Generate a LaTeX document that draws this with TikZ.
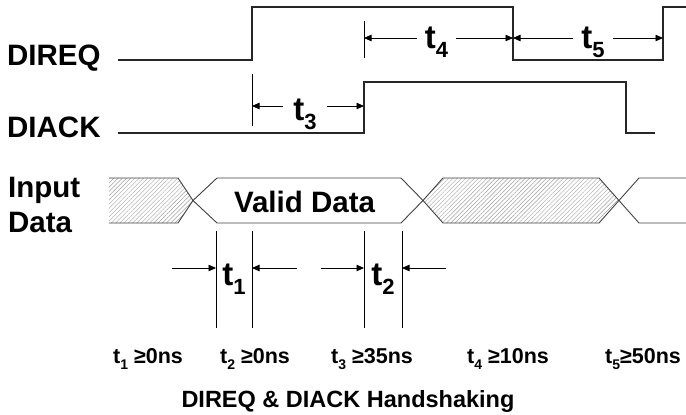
\documentclass[tikz,border=0pt]{standalone}
\usepackage{fontspec}
\setmainfont{Liberation Sans}
\usetikzlibrary{arrows.meta,patterns.meta,positioning}

% subscripted time names: big one on the waveforms, small one in the list
\newcommand{\tbig}[1]{t\raisebox{-0.3em}{\fontsize{22}{22}\selectfont #1}}
\newcommand{\tsmall}[1]{t\raisebox{-0.32em}{\fontsize{14}{14}\selectfont #1}}

\tikzset{
  sig/.style={line width=1.1pt, draw=black!85, line join=miter},
  bus/.style={line width=0.9pt, draw=black!75},
  hatch/.style={pattern={Lines[angle=45,distance=3pt,line width=0.45pt]}, pattern color=gray!75},
  tick/.style={line width=0.8pt, draw=black},
  dim/.style={line width=0.8pt, -{Triangle[length=7.5pt,width=6.5pt]}},
  siglabel/.style={font=\bfseries\fontsize{29.5}{35}\selectfont, inner sep=0pt, anchor=base west},
  tname/.style={font=\bfseries\fontsize{33}{33}\selectfont, inner ysep=0pt, anchor=base},
  spec/.style={font=\bfseries\fontsize{21.5}{21.5}\selectfont, inner sep=0pt, anchor=base},
}

\begin{document}
\begin{tikzpicture}[x=1pt, y=-1pt]
  \useasboundingbox (0,0) rectangle (686,415);

  % ======= signal names =======
  \node[siglabel] (direq) at (7,65) {DIREQ};
  \node[siglabel] (diack) at (7,137) {DIACK};
  \node[siglabel] (input) at (8,197) {Input};
  \node[siglabel] (data) at (8,232) {Data};

  % ======= DIREQ / DIACK waveforms =======
  \draw[sig] (118,60) -- (252,60) -- (252,7) -- (513,7) -- (513,60) -- (663,60) -- (663,7) -- (687,7);
  \draw[sig] (118,133) -- (364,133) -- (364,82) -- (626,82) -- (626,133) -- (655,133);

  % ======= input data bus =======
  \path[hatch] (109,178) -- (178,178) -- (193,200.5) -- (178,223) -- (109,223) -- cycle;
  \draw[bus] (109,178) -- (178,178) -- (193,200.5) -- (178,223) -- (109,223);
  \draw[bus] (193,200.5) -- (217,178) -- (401,178) -- (423,200.5) -- (401,223) -- (217,223) -- cycle;
  \draw[bus, hatch] (423,200.5) -- (443,178) -- (599,178) -- (619,200.5) -- (599,223) -- (443,223) -- cycle;
  \draw[bus] (687,178) -- (639,178) -- (619,200.5) -- (639,223) -- (687,223);
  \node[font=\bfseries\fontsize{29.5}{29.5}\selectfont, inner sep=0pt, anchor=base] (valid) at (304.5,212) {Valid Data};

  % ======= t3 (DIREQ up -> DIACK up) =======
  \draw[tick] (252,74) -- (252,126);
  \coordinate (t3a) at (252,106);
  \coordinate (t3b) at (364,106);
  \node[tname, inner xsep=10.5pt] (t3lab) at (305,120) {\tbig{3}};
  \draw[dim] (t3lab.west |- t3a) -- (t3a);
  \draw[dim] (t3lab.east |- t3b) -- (t3b);

  % ======= t4 and t5 (DIREQ high / low) =======
  \draw[tick] (364,21) -- (364,58);
  \coordinate (t4a) at (364,38);
  \coordinate (t4b) at (513,38);
  \coordinate (t5b) at (663,38);
  \node[tname, inner xsep=7.5pt] (t4lab) at (436.5,48) {\tbig{4}};
  \node[tname, inner xsep=8pt] (t5lab) at (593,48) {\tbig{5}};
  \draw[dim] (t4lab.west |- t4a) -- (t4a);
  \draw[dim] (t4lab.east |- t4b) -- (t4b);
  \draw[dim] (t5lab.west |- t4b) -- (t4b);
  \draw[dim] (t5lab.east |- t5b) -- (t5b);

  % ======= t1 and t2 (data setup / hold) =======
  \foreach \x in {216,252,364,402} {
    \draw[tick] (\x,231) -- (\x,328);
  }
  \node[tname, inner xsep=0pt] (t1lab) at (234,285) {\tbig{1}};
  \node[tname, inner xsep=0pt] (t2lab) at (383,285) {\tbig{2}};
  \coordinate (t1l) at (172,268);
  \coordinate (t1r) at (297,268);
  \coordinate (t2l) at (321,268);
  \coordinate (t2r) at (446,268);
  \draw[dim] (t1l) -- (216,268);
  \draw[dim] (t1r) -- (252,268);
  \draw[dim] (t2l) -- (364,268);
  \draw[dim] (t2r) -- (402,268);

  % ======= timing list =======
  \node[spec] (s1) at (148,363) {\tsmall{1} ≥0ns};
  \node[spec] (s2) at (255,363) {\tsmall{2} ≥0ns};
  \node[spec] (s3) at (372,363) {\tsmall{3} ≥35ns};
  \node[spec] (s4) at (508,363) {\tsmall{4} ≥10ns};
  \node[spec] (s5) at (643,363) {\tsmall{5}≥50ns};

  \node[font=\bfseries\fontsize{23.5}{23.5}\selectfont, inner sep=0pt, anchor=base] (title) at (348,407) {DIREQ \& DIACK Handshaking};
\end{tikzpicture}
\end{document}
